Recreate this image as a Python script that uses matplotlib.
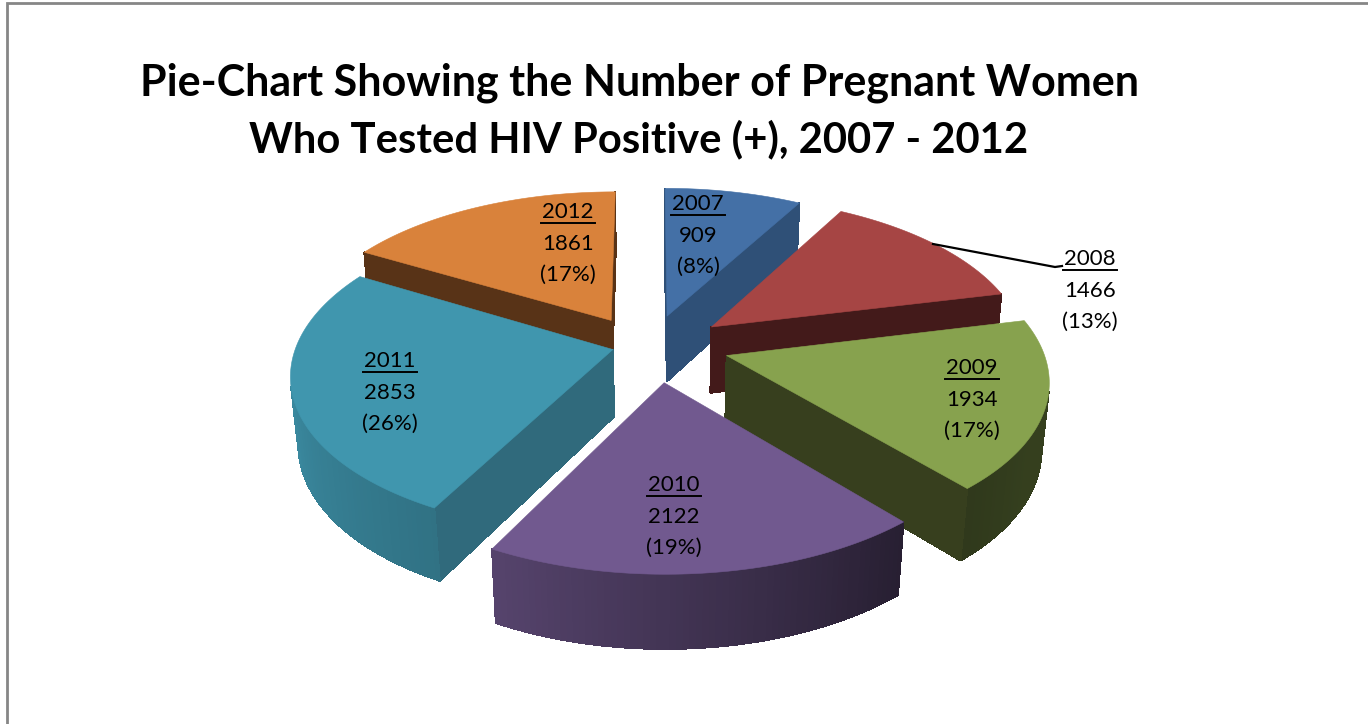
import numpy as np
import matplotlib
matplotlib.use('Agg')
import matplotlib.pyplot as plt

years = ['2007', '2008', '2009', '2010', '2011', '2012']
cases = [909, 1466, 1934, 2122, 2853, 1861]

title_lines = ['Pie-Chart Showing the Number of Pregnant Women',
               'Who Tested HIV Positive (+), 2007 - 2012']
title_sizes = [31, 30.1]

top_colors = ['#4470A6', '#A64544', '#87A24E', '#71598F', '#4096AE', '#D9823B']
side_colors = ['#2F5077', '#431A1A', '#373F1E', '#4F3E64', '#306A7C', '#583317']
label_pos = [(698, 203), (1090, 258), (972, 367), (674, 484), (390, 360), (568, 211)]
slice_nudge = [(-10, 3), (-3, 2), (0, 0), (-4, 3), (20, -5), (-15, 4)]

# perspective of the fake 3D pie
CX, CY = 660, 345
A, B, C = 315, 154, 68
K, M = 0.14, 0.02
EXPLODE = 0.22


def project(x, y, z):
    w = 1 + K * y + M * z
    return CX + A * x / w, CY + (-B * y + C * z) / w


def shade(theta):
    # brightness of the rim, darker towards the right front
    return np.interp(theta, [120, 140, 208, 270, 300], [0.39, 0.35, 0.76, 0.95, 1.0])


def mix(color, f):
    r, g, b = matplotlib.colors.to_rgb(color)
    return (r * f, g * f, b * f)


def draw_slice(ax, start, end, top, side, nudge):
    mid = np.radians((start + end) / 2)
    ox, oy = EXPLODE * np.sin(mid), EXPLODE * np.cos(mid)
    th = np.linspace(start, end, max(int(end - start), 2) + 1)
    px = np.r_[ox, ox + np.sin(np.radians(th))]
    py = np.r_[oy, oy + np.cos(np.radians(th))]
    n = len(px)
    for i in range(n):
        j = (i + 1) % n
        x1, y1 = project(px[i], py[i], 0)
        x2, y2 = project(px[j], py[j], 0)
        x3, y3 = project(px[j], py[j], 1)
        x4, y4 = project(px[i], py[i], 1)
        qx = np.array([x1, x2, x3, x4]) + nudge[0]
        qy = np.array([y1, y2, y3, y4]) + nudge[1]
        area = np.sum(qx * np.roll(qy, -1) - np.roll(qx, -1) * qy)
        if area >= 0:
            continue
        if i == 0 or j == 0:
            c = side
        else:
            c = mix(top, shade((th[i - 1] + th[i]) / 2))
        ax.fill(qx, qy, color=c, lw=0.6, antialiased=False)
    tx, ty = project(px, py, 0)
    ax.fill(tx + nudge[0], ty + nudge[1], color=top, lw=0.4)


fig = plt.figure(figsize=(13.68, 7.24), dpi=100)
ax = fig.add_axes([0, 0, 1, 1])
ax.set_xlim(0, 1368)
ax.set_ylim(724, 0)
ax.axis('off')

# grey chart border, only top and left are in the picture
ax.plot([7, 7, 1368], [724, 3, 3], color='#868686', lw=2, solid_joinstyle='miter')

total = sum(cases)
angles = np.r_[0, np.cumsum(cases) / total * 360]
order = sorted(range(len(cases)), key=lambda i: -np.cos(np.radians((angles[i] + angles[i + 1]) / 2)))
for i in order:
    draw_slice(ax, angles[i], angles[i + 1], top_colors[i], side_colors[i], slice_nudge[i])

# leader line of 2008
ax.plot([933, 1055, 1062], [244, 267, 266], color='black', lw=1.6)

for line, size, y in zip(title_lines, title_sizes, [83, 139]):
    ax.text(639, y, line, family='Lato', weight='bold', fontsize=size,
            ha='center', va='center', color='black')

fig.canvas.draw()
renderer = fig.canvas.get_renderer()
for year, n, (x, y) in zip(years, cases, label_pos):
    t = ax.text(x, y + 1, year, family='Lato', fontsize=16, ha='center', va='center', color='black')
    ax.text(x, y + 33, str(n), family='Lato', fontsize=16, ha='center', va='center', color='black')
    ax.text(x, y + 64, '(%d%%)' % round(n / total * 100), family='Lato', fontsize=16,
            ha='center', va='center', color='black')
    bb = t.get_window_extent(renderer)
    ax.plot([bb.x0 - 1, bb.x1 + 1], [y + 12, y + 12], color='black', lw=1.4)

fig.savefig('out.png', dpi=100, facecolor='white')
